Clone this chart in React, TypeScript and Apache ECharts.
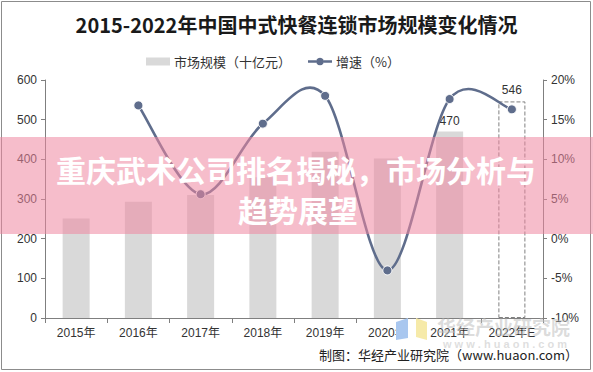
import React, { useEffect, useRef } from "react";
import * as echarts from "echarts";

const categories = ["2015年", "2016年", "2017年", "2018年", "2019年", "2020年", "2021年", "2022年E"];
const marketSize = [251, 293, 310, 355, 419, 402, 470, 546];
const growthRate: (number | null)[] = [null, 16.8, 5.6, 14.5, 18.0, -4.0, 17.6, 16.3];
const leftTicks = { min: 0, max: 600, interval: 100 };
const rightTicks = { min: -10, max: 20, interval: 5 };

const titleText = "2015-2022年中国中式快餐连锁市场规模变化情况";
const barName = "市场规模（十亿元）";
const lineName = "增速（%）";
const sourceText = "制图：华经产业研究院（www.huaon.com）";
const bannerLine1 = "重庆武术公司排名揭秘，市场分析与";
const bannerLine2 = "趋势展望";

const FONT = '"Liberation Sans", "Noto Sans CJK SC", sans-serif';
const CJK = '"Noto Sans CJK SC", sans-serif';
const LINE_COLOR = "#5f6d8c";
const LINE_LEGEND_ICON =
  "path://M0 3.2h8.6v2.6H0Z M16.4 3.2H25v2.6h-8.6Z M12.5 0.5a4 4 0 1 1 -0.001 0Z";

export default function App() {
  const ref = useRef<HTMLDivElement>(null);
  useEffect(() => {
    if (!ref.current) return;
    const chart = echarts.init(ref.current, undefined, { renderer: "svg" });
    const last = marketSize.length - 1;
    const labelStyle = { show: true, position: "top", color: "#333", fontSize: 12, fontFamily: FONT };
    const barData = marketSize.map((v, i) => {
      if (i === last) {
        return {
          value: v,
          itemStyle: { color: "rgba(255,255,255,0)", borderColor: "#808080", borderWidth: 1, borderType: "dashed" },
          label: labelStyle,
        };
      }
      if (i === last - 1) return { value: v, label: labelStyle };
      return v;
    });
    const lineData = growthRate.map((v) => (v === null ? "-" : v));
    const curveData = growthRate
      .map((v, i) => (v === null ? null : [i, v]))
      .filter((d) => d !== null) as number[][];

    const renderCurve = (params: any, api: any) => {
      if (params.dataIndexInside !== 0) return null;
      const n = params.dataInsideLength;
      const pts: number[][] = [];
      for (let k = 0; k < n; k++) {
        pts.push(api.coord([api.value(0, k), api.value(1, k)]));
      }
      let d = `M${pts[0][0]} ${pts[0][1]}`;
      for (let k = 0; k < n - 1; k++) {
        const p0 = pts[k];
        const p1 = pts[k + 1];
        const pm = k > 0 ? pts[k - 1] : p0;
        const pn = k + 2 < n ? pts[k + 2] : p1;
        const c1 = [p0[0] + (p1[0] - pm[0]) / 6, p0[1] + (p1[1] - pm[1]) / 6];
        const c2 = [p1[0] - (pn[0] - p0[0]) / 6, p1[1] - (pn[1] - p0[1]) / 6];
        d += ` C${c1[0]} ${c1[1]} ${c2[0]} ${c2[1]} ${p1[0]} ${p1[1]}`;
      }
      return {
        type: "path",
        shape: { pathData: d },
        style: { stroke: LINE_COLOR, lineWidth: 2.6, fill: "none" },
      };
    };

    chart.setOption({
      animation: false,
      backgroundColor: "#fff",
      title: {
        text: titleText,
        left: "center",
        top: 9,
        textStyle: { fontSize: 20, fontWeight: "bold", color: "#1a1a1a", fontFamily: CJK },
      },
      legend: {
        left: 141,
        top: 50,
        itemWidth: 24,
        itemHeight: 8,
        itemGap: 17,
        textStyle: { fontSize: 13, color: "#333", fontFamily: CJK, padding: [0, 0, 0, -1] },
        data: [
          { name: barName, icon: "rect", itemStyle: { color: "#d9d9d9" } },
          { name: lineName, icon: LINE_LEGEND_ICON, itemStyle: { color: LINE_COLOR, borderWidth: 0 } },
        ],
      },
      grid: { left: 45, right: 50, top: 80, bottom: 54, containLabel: false },
      xAxis: {
        type: "category",
        data: categories,
        axisLine: { lineStyle: { color: "#7f7f7f" } },
        axisTick: { show: true, length: 5, lineStyle: { color: "#7f7f7f" } },
        axisLabel: { color: "#333", fontSize: 12, margin: 9, fontFamily: FONT },
      },
      yAxis: [
        {
          type: "value",
          ...leftTicks,
          splitLine: { show: false },
          axisLine: { show: true, lineStyle: { color: "#7f7f7f" } },
          axisTick: { show: true, length: 4, lineStyle: { color: "#7f7f7f" } },
          axisLabel: { color: "#333", fontSize: 12, margin: 8, fontFamily: FONT },
        },
        {
          type: "value",
          ...rightTicks,
          splitLine: { show: false },
          axisLine: { show: true, lineStyle: { color: "#7f7f7f" } },
          axisTick: { show: true, length: 4, lineStyle: { color: "#7f7f7f" } },
          axisLabel: { color: "#333", fontSize: 12, margin: 8, formatter: "{value}%", fontFamily: FONT },
        },
      ],
      series: [
        {
          name: barName,
          type: "bar",
          data: barData,
          barWidth: 27,
          itemStyle: { color: "#d9d9d9" },
          z: 2,
        },
        {
          name: "增速曲线",
          type: "custom",
          yAxisIndex: 1,
          data: curveData,
          encode: { x: 0, y: 1 },
          renderItem: renderCurve,
          silent: true,
          z: 3,
        },
        {
          name: lineName,
          type: "line",
          yAxisIndex: 1,
          data: lineData,
          symbol: "circle",
          symbolSize: 9,
          lineStyle: { color: LINE_COLOR, width: 0, opacity: 0 },
          itemStyle: { color: LINE_COLOR, borderColor: "#fff", borderWidth: 1 },
          z: 4,
        },
      ],
      graphic: [
        {
          type: "rect",
          z: 0,
          shape: { x: 1.5, y: 1.5, width: 589, height: 368 },
          style: { fill: "none", stroke: "#8c8c8c", lineWidth: 1 },
        },
        {
          type: "polygon",
          z: 1,
          shape: { points: [[396, 322], [408, 318], [408, 338], [396, 340]] },
          style: { fill: "#a9c7ef" },
        },
        {
          type: "polygon",
          z: 1,
          shape: { points: [[416, 318], [427, 322], [427, 340], [416, 337]] },
          style: { fill: "#f6eaa9" },
        },
        {
          type: "text",
          z: 1,
          x: 437,
          y: 326,
          style: {
            text: "华经产业研究院",
            fill: "rgba(190,190,190,0.55)",
            font: "bold 19px " + CJK,
            align: "left",
            verticalAlign: "middle",
          },
        },
        {
          type: "text",
          z: 1,
          x: 505,
          y: 344,
          style: {
            text: "w w w . h u a o n . c o m",
            fill: "rgba(190,190,190,0.5)",
            font: "bold 11px " + FONT,
            align: "center",
            verticalAlign: "middle",
          },
        },
        {
          type: "text",
          z: 5,
          x: 578,
          y: 354,
          style: {
            text: sourceText,
            fill: "#222",
            font: "13px " + CJK,
            align: "right",
            verticalAlign: "middle",
          },
        },
        {
          type: "rect",
          z: 100,
          shape: { x: 0, y: 137, width: 593, height: 97 },
          style: { fill: "rgba(238,135,160,0.55)" },
        },
        {
          type: "text",
          z: 101,
          x: 296,
          y: 169,
          style: {
            text: bannerLine1,
            fill: "#fff",
            font: "bold 30px " + CJK,
            align: "center",
            verticalAlign: "middle",
          },
        },
        {
          type: "text",
          z: 101,
          x: 298,
          y: 209,
          style: {
            text: bannerLine2,
            fill: "#fff",
            font: "bold 30px " + CJK,
            align: "center",
            verticalAlign: "middle",
          },
        },
      ],
    });
    return () => chart.dispose();
  }, []);
  return (
    <div
      ref={ref}
      style={{ position: "fixed", left: 0, top: 0, width: 593, height: 372, background: "#fff" }}
    />
  );
}
